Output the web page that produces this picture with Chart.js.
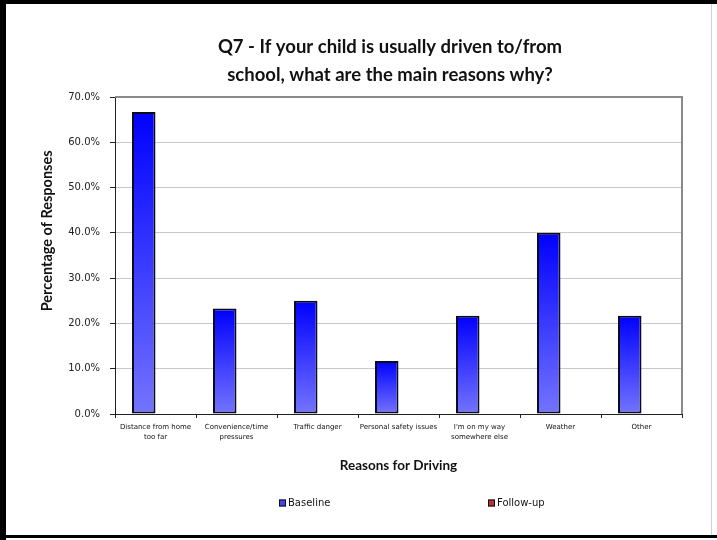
<!DOCTYPE html>
<html>
<head>
<meta charset="utf-8">
<script src="https://cdn.jsdelivr.net/npm/chart.js@4/dist/chart.umd.min.js"></script>
<style>
html,body{margin:0;padding:0;background:#fff;}
#wrap{position:relative;width:717px;height:540px;}
canvas{display:block;}
</style>
</head>
<body>
<div id="wrap"><canvas id="c" width="717" height="540"></canvas></div>
<script>
// ---- data ----
const titleLines = ["Q7 - If your child is usually driven to/from", "school, what are the main reasons why?"];
const categories = [
  ["Distance from home", "too far"],
  ["Convenience/time", "pressures"],
  ["Traffic danger"],
  ["Personal safety issues"],
  ["I'm on my way", "somewhere else"],
  ["Weather"],
  ["Other"]
];
const seriesNames = ["Baseline", "Follow-up"];
const baselineValues = [66.7, 23.3, 25.0, 11.7, 21.7, 40.0, 21.7];
const followUpValues = [null, null, null, null, null, null, null];
const yMin = 0, yMax = 70, yStep = 10;
const xAxisTitle = "Reasons for Driving";
const yAxisTitle = "Percentage of Responses";

// ---- styling helpers ----
function barGradient(ctx) {
  const chart = ctx.chart;
  const y = chart.scales && chart.scales.y;
  if (!y || ctx.type !== 'data' || ctx.raw == null) return '#3a3aff';
  const top = y.getPixelForValue(ctx.raw);
  const bottom = y.getPixelForValue(0);
  if (!isFinite(top) || !isFinite(bottom) || bottom - top < 1) return '#3a3aff';
  const g = chart.ctx.createLinearGradient(0, top, 0, bottom);
  g.addColorStop(0, '#0000ff');
  g.addColorStop(1, '#7474ff');
  return g;
}

const legendColors = ['#4646e6', '#b23434'];

const customPlugin = {
  id: 'custom',
  afterLayout(chart) {
    if (chart.titleBlock) { chart.titleBlock.left = 98; }
  },
  beforeDatasetsDraw(chart) {
    const a = chart.chartArea, c = chart.ctx;
    c.save();
    c.strokeStyle = '#8a8a8a';
    c.lineWidth = 2;
    c.beginPath();
    c.moveTo(a.left, a.top);
    c.lineTo(a.right, a.top);
    c.lineTo(a.right, a.bottom);
    c.stroke();
    c.restore();
  },
  afterDraw(chart) {
    const c = chart.ctx;
    c.save();
    // legend
    c.font = '10px "DejaVu Sans"';
    c.textBaseline = 'middle';
    c.textAlign = 'left';
    const xs = [279, 488];
    const ly = 503;
    seriesNames.forEach((name, i) => {
      c.fillStyle = legendColors[i];
      c.fillRect(xs[i], ly - 3.5, 7, 7);
      c.strokeStyle = '#111';
      c.lineWidth = 1;
      c.strokeRect(xs[i] + 0.5, ly - 3.5 + 0.5, 6, 6);
      c.fillStyle = '#111';
      c.fillText(name, xs[i] + 9, ly);
    });
    // outer frame
    c.fillStyle = '#000';
    c.fillRect(0, 0, 717, 4);
    c.fillRect(0, 0, 6, 540);
    c.fillRect(0, 535, 717, 3);
    c.fillStyle = '#d0d0d0';
    c.fillRect(711, 4, 1, 531);
    c.restore();
  }
};

new Chart(document.getElementById('c'), {
  type: 'bar',
  data: {
    labels: categories,
    datasets: [
      {
        label: seriesNames[0],
        data: baselineValues,
        backgroundColor: barGradient,
        borderColor: '#0a0a20',
        borderWidth: 2,
        borderSkipped: false,
        categoryPercentage: 0.58,
        barPercentage: 1.0
      },
      {
        label: seriesNames[1],
        data: followUpValues,
        backgroundColor: legendColors[1],
        borderColor: '#111',
        borderWidth: 2,
        categoryPercentage: 0.58,
        barPercentage: 1.0
      }
    ]
  },
  options: {
    responsive: false,
    animation: false,
    devicePixelRatio: 1,
    layout: { padding: { left: 0, right: 35, top: 0, bottom: 0 } },
    plugins: {
      legend: { display: false },
      tooltip: { enabled: false },
      title: {
        display: true,
        text: titleLines,
        color: '#111',
        font: { family: 'Lato', size: 18.5, weight: 'bold', lineHeight: '28px' },
        padding: { top: 33, bottom: 8 }
      }
    },
    scales: {
      x: {
        afterFit(scale) { scale.height = 126; },
        grid: {
          display: true,
          drawOnChartArea: false,
          drawTicks: true,
          tickLength: 4,
          tickColor: '#222',
          offset: true
        },
        border: { display: true, color: '#222', width: 1 },
        ticks: {
          color: '#111',
          font: { family: 'DejaVu Sans', size: 7, lineHeight: '10px' },
          padding: 4,
          maxRotation: 0,
          autoSkip: false
        },
        title: {
          display: true,
          text: xAxisTitle,
          color: '#111',
          font: { family: 'Lato', size: 13.5, weight: 'bold', lineHeight: 1.2 },
          padding: { top: 0, bottom: 66 }
        }
      },
      y: {
        min: yMin,
        max: yMax,
        afterFit(scale) { scale.width = 115; },
        grid: {
          color: '#c8c8c8',
          lineWidth: 1,
          drawTicks: true,
          tickLength: 5,
          tickColor: '#222'
        },
        border: { display: true, color: '#222', width: 1 },
        ticks: {
          stepSize: yStep,
          color: '#222',
          padding: 10,
          font: { family: 'DejaVu Sans', size: 10 },
          callback: (v) => Number(v).toFixed(1) + '%'
        },
        title: {
          display: true,
          text: '\u00A0\u00A0\u00A0\u00A0\u00A0\u00A0\u00A0\u00A0\u00A0\u00A0\u00A0\u00A0\u00A0\u00A0' + yAxisTitle,
          color: '#111',
          font: { family: 'Lato', size: 14.5, weight: 'bold', lineHeight: 1.2 },
          padding: { top: 39, bottom: 0 }
        }
      }
    }
  },
  plugins: [customPlugin]
});
</script>
</body>
</html>
